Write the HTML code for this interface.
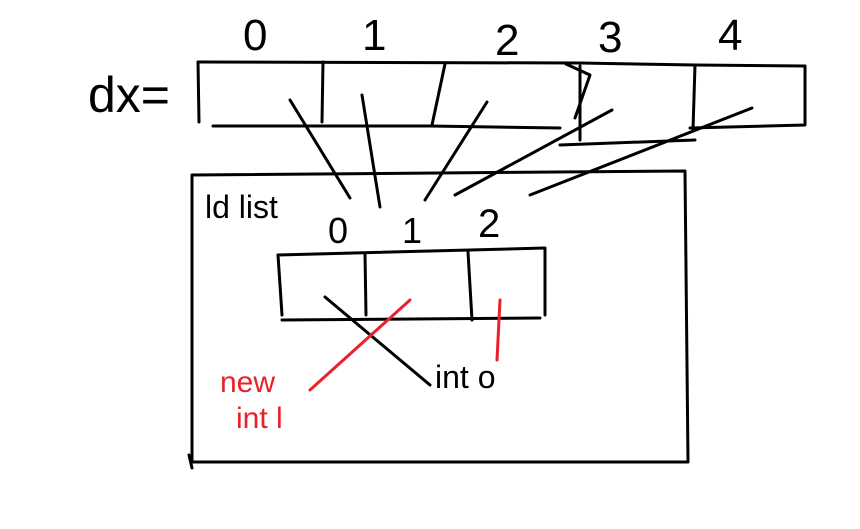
<!DOCTYPE html>
<html><head><meta charset="utf-8"><style>
html,body{margin:0;padding:0;background:#fff;width:860px;height:529px;overflow:hidden}
svg text{font-family:"Liberation Sans","DejaVu Sans",sans-serif}
</style></head><body>
<svg width="860" height="529" viewBox="0 0 860 529">
<g fill="none" stroke="#000" stroke-width="3" stroke-linecap="round" stroke-linejoin="round">
  <g>
    <polyline points="198,62 580,63 695,65 805,66"/>
    <polyline points="198,62 199,122"/>
    <polyline points="213,126 430,126 560,128"/>
    <polyline points="323,62 322,122"/>
    <polyline points="445,64 432,125"/>
    <polyline points="566,64 590,75 575,118"/>
    <polyline points="580,66 580,140"/>
    <polyline points="560,145 695,140"/>
    <polyline points="695,65 693,130"/>
    <polyline points="805,66 805,125 690,128"/>
  </g>
  <g>
    <line x1="290" y1="100" x2="350" y2="198"/>
    <line x1="362" y1="95" x2="380" y2="207"/>
    <line x1="487" y1="102" x2="425" y2="200"/>
    <line x1="612" y1="110" x2="455" y2="195"/>
    <line x1="752" y1="108" x2="530" y2="195"/>
  </g>
  <g>
    <polyline points="192,175 685,171 688,462 192,462 192,175"/>
    <polyline points="189,455 192,468"/>
  </g>
  <g>
    <polyline points="278,255 545,248 545,315"/>
    <polyline points="278,255 282,315"/>
    <polyline points="282,320 540,318"/>
    <polyline points="365,254 366,315"/>
    <polyline points="468,252 472,320"/>
  </g>
  <line x1="325" y1="297" x2="430" y2="385"/>
</g>
<g fill="none" stroke="#e8222a" stroke-width="3" stroke-linecap="round">
  <line x1="410" y1="300" x2="310" y2="390"/>
  <line x1="500" y1="300" x2="497" y2="360"/>
</g>
<g fill="#000">
  <text x="88" y="112" font-size="50">dx=</text>
  <text x="243" y="50" font-size="44">0</text>
  <text x="362" y="50" font-size="44">1</text>
  <text x="495" y="55" font-size="44">2</text>
  <text x="598" y="52" font-size="44">3</text>
  <text x="718" y="50" font-size="44">4</text>
  <text x="205" y="218" font-size="32">ld list</text>
  <text x="328" y="243" font-size="36">0</text>
  <text x="402" y="243" font-size="36">1</text>
  <text x="478" y="237" font-size="40">2</text>
  <text x="435" y="388" font-size="32">int o</text>
</g>
<g fill="#e8222a">
  <text x="220" y="392" font-size="30">new</text>
  <text x="236" y="428" font-size="30">int l</text>
</g>
</svg>
</body></html>
